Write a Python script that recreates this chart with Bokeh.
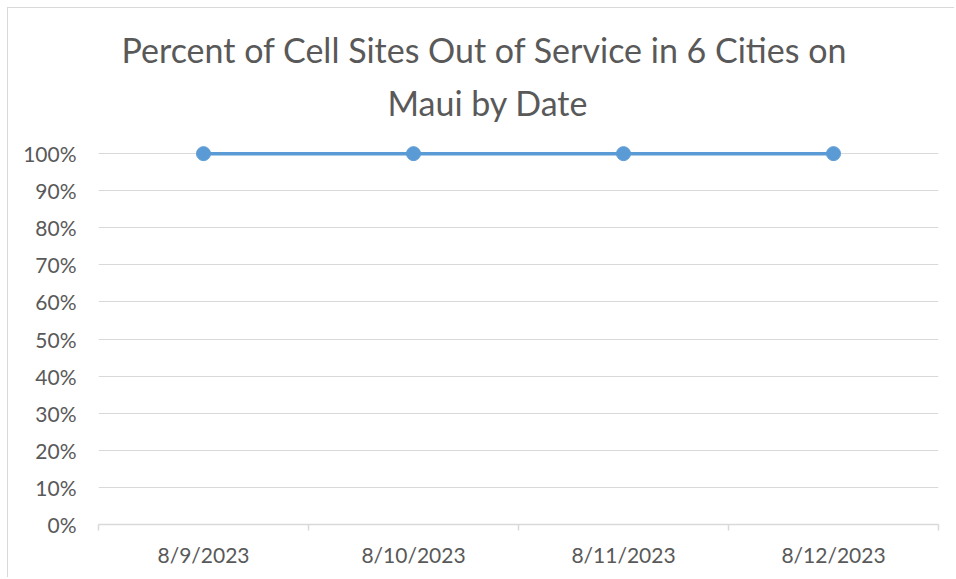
from bokeh.plotting import figure
from bokeh.models import Range1d, FixedTicker, NumeralTickFormatter, Title
from bokeh.embed import file_html
from bokeh.resources import INLINE

dates = ["8/9/2023", "8/10/2023", "8/11/2023", "8/12/2023"]
pct_out = [1.0, 1.0, 1.0, 1.0]
y_ticks = [0.0, 0.1, 0.2, 0.3, 0.4, 0.5, 0.6, 0.7, 0.8, 0.9, 1.0]
title_lines = ["Percent of Cell Sites Out of Service in 6 Cities on", "Maui by Date"]

FONT = "Lato"
TXT = "#595959"
GRID = "#d9d9d9"
BLUE = "#5b9bd5"

xs = [i + 0.5 for i in range(len(dates))]

p = figure(width=947, height=570, output_backend="svg", toolbar_location=None,
           x_range=Range1d(0, len(dates)), y_range=Range1d(0, 1.03),
           title=title_lines[0],
           min_border_left=90, min_border_right=17, min_border_bottom=54, min_border_top=134)
p.styles = {"border-left": "1px solid #d9d9d9", "border-top": "1px solid #d9d9d9",
            "margin-left": "7px", "margin-top": "7px"}
p.outline_line_color = None
p.background_fill_color = "white"
p.border_fill_color = "white"

# first title line (farther from frame)
p.title.align = "left"
p.title.offset = 16
p.title.text_font = FONT
p.title.text_font_size = "34px"
p.title.text_font_style = "normal"
p.title.text_color = TXT
p.title.standoff = -20
p.title.padding = (7, 0, 0, 0)

# second title line (closest to frame)
t2 = Title(text=title_lines[1], align="left", offset=289, text_font=FONT, text_font_size="34px",
           text_font_style="normal", text_color=TXT, standoff=40)
p.add_layout(t2, "above")

p.line(xs, pct_out, line_color=BLUE, line_width=3.5)
p.scatter(xs, pct_out, size=14, fill_color=BLUE, line_color=BLUE)

# y axis
p.yaxis.ticker = FixedTicker(ticks=y_ticks)
p.yaxis.formatter = NumeralTickFormatter(format="0%")
p.yaxis.axis_line_color = None
p.yaxis.major_tick_line_color = None
p.yaxis.minor_tick_line_color = None
p.yaxis.major_label_text_font = FONT
p.yaxis.major_label_text_font_size = "21px"
p.yaxis.major_label_text_color = TXT
p.yaxis.major_label_standoff = 16
p.ygrid.ticker = FixedTicker(ticks=y_ticks)
p.ygrid.grid_line_color = GRID
p.ygrid.grid_line_width = 1.2

# x axis
p.xaxis.ticker = FixedTicker(ticks=xs, minor_ticks=list(range(len(dates) + 1)))
p.xaxis.major_label_overrides = {x: d for x, d in zip(xs, dates)}
p.xaxis.axis_line_color = GRID
p.xaxis.axis_line_width = 1.5
p.xaxis.major_tick_line_color = None
p.xaxis.major_tick_out = 0
p.xaxis.major_tick_in = 0
p.xaxis.minor_tick_line_color = GRID
p.xaxis.minor_tick_line_width = 1.5
p.xaxis.minor_tick_out = 6
p.xaxis.minor_tick_in = 0
p.xaxis.major_label_text_font = FONT
p.xaxis.major_label_text_font_size = "21px"
p.xaxis.major_label_text_color = TXT
p.xaxis.major_label_standoff = 11
p.xgrid.grid_line_color = None

open("out.html", "w").write(file_html(p, INLINE))
